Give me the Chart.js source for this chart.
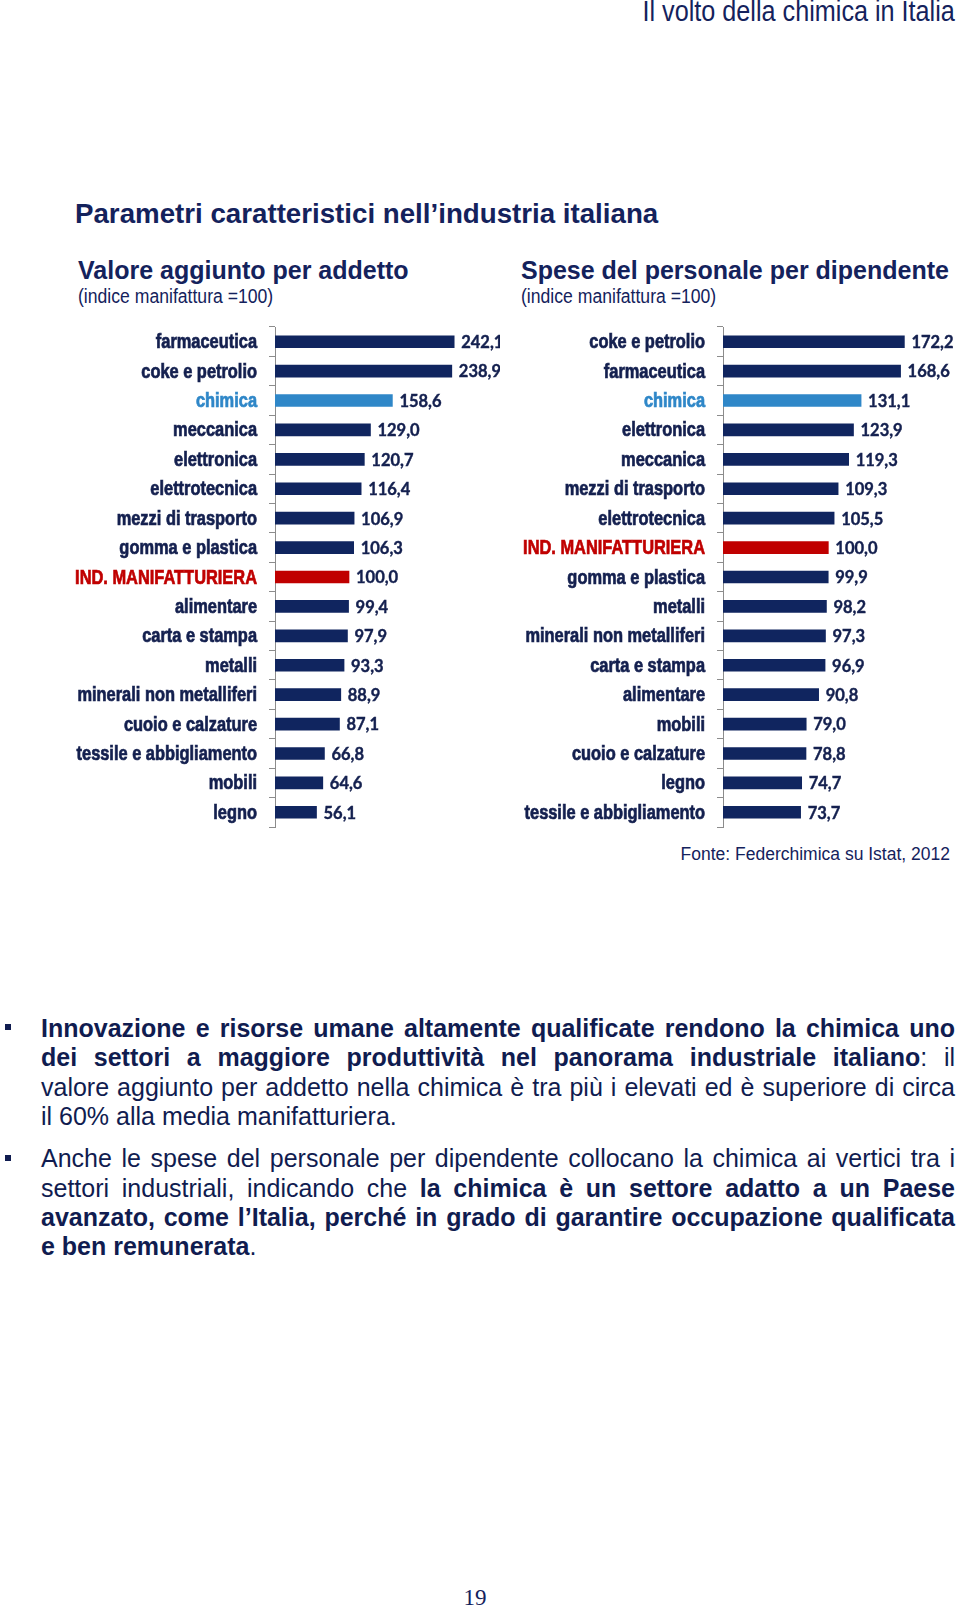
<!DOCTYPE html>
<html lang="it">
<head>
<meta charset="utf-8">
<title>Il volto della chimica in Italia</title>
<script src="https://cdn.jsdelivr.net/npm/chart.js@4.4.1/dist/chart.umd.min.js"></script>
<style>
  body { margin: 0; background: #fff; }
  #page { position: relative; width: 960px; height: 1610px; overflow: hidden;
          font-family: 'Liberation Sans', Arial, sans-serif; color: #14225c; }
  .abs { position: absolute; white-space: nowrap; }
  canvas { position: absolute; }
  .line { position: absolute; left: 41px; width: 914px; height: 30px; line-height: 30px;
          font-size: 25px; white-space: nowrap; text-align: justify; text-align-last: justify;
          color: #101c50; }
  .line.last { text-align-last: left; }
  .bullet { position: absolute; left: 5px; width: 6px; height: 6px; background: #101c50; }
</style>
</head>
<body>
<div id="page">
  <!-- no narrow font installed: squeeze the regular one -->
  <div class="abs" style="right:5px; top:-4px; font-size:30px; line-height:30px; transform:scaleX(0.84); transform-origin:right center;">Il volto della chimica in Italia</div>

  <div class="abs" style="left:75px; top:197px; font-size:27.7px; line-height:34px; font-weight:bold;">Parametri caratteristici nell’industria italiana</div>

  <div class="abs" style="left:78px; top:255px; font-size:25px; line-height:30px; font-weight:bold;">Valore aggiunto per addetto</div>
  <div class="abs" style="left:78px; top:285px; font-size:20px; line-height:22px; transform:scaleX(0.88); transform-origin:left center;">(indice manifattura =100)</div>
  <div class="abs" style="left:521px; top:255px; font-size:25px; line-height:30px; font-weight:bold;">Spese del personale per dipendente</div>
  <div class="abs" style="left:521px; top:285px; font-size:20px; line-height:22px; transform:scaleX(0.88); transform-origin:left center;">(indice manifattura =100)</div>

  <canvas id="chartLeft" width="500" height="515" style="left:0px; top:320px;"></canvas>
  <canvas id="chartRight" width="460" height="515" style="left:500px; top:320px;"></canvas>

  <div class="abs" style="right:10px; top:844px; font-size:17.5px; line-height:20px;">Fonte: Federchimica su Istat, 2012</div>

  <div class="bullet" style="top:1024px;"></div>
  <div class="line" style="top:1013px;"><b>Innovazione e risorse umane altamente qualificate rendono la chimica uno</b></div>
  <div class="line" style="top:1042px;"><b>dei settori a maggiore produttività nel panorama industriale italiano</b>: il</div>
  <div class="line" style="top:1072px;">valore aggiunto per addetto nella chimica è tra più i elevati ed è superiore di circa</div>
  <div class="line last" style="top:1101px;">il 60% alla media manifatturiera.</div>

  <div class="bullet" style="top:1155px;"></div>
  <div class="line" style="top:1143px;">Anche le spese del personale per dipendente collocano la chimica ai vertici tra i</div>
  <div class="line" style="top:1173px;">settori industriali, indicando che <b>la chimica è un settore adatto a un Paese</b></div>
  <div class="line" style="top:1202px;"><b>avanzato, come l’Italia, perché in grado di garantire occupazione qualificata</b></div>
  <div class="line last" style="top:1231px;"><b>e ben remunerata</b>.</div>

  <div class="abs" style="left:455px; top:1586px; width:40px; text-align:center; font-family:'Liberation Serif', serif; font-size:23px; line-height:24px;">19</div>
</div>

<script>
// Valore aggiunto per addetto (indice manifattura = 100)
const leftLabels = ['farmaceutica', 'coke e petrolio', 'chimica', 'meccanica', 'elettronica',
  'elettrotecnica', 'mezzi di trasporto', 'gomma e plastica', 'IND. MANIFATTURIERA', 'alimentare',
  'carta e stampa', 'metalli', 'minerali non metalliferi', 'cuoio e calzature',
  'tessile e abbigliamento', 'mobili', 'legno'];
const leftValues = [242.1, 238.9, 158.6, 129.0, 120.7, 116.4, 106.9, 106.3, 100.0, 99.4,
  97.9, 93.3, 88.9, 87.1, 66.8, 64.6, 56.1];

// Spese del personale per dipendente (indice manifattura = 100)
const rightLabels = ['coke e petrolio', 'farmaceutica', 'chimica', 'elettronica', 'meccanica',
  'mezzi di trasporto', 'elettrotecnica', 'IND. MANIFATTURIERA', 'gomma e plastica', 'metalli',
  'minerali non metalliferi', 'carta e stampa', 'alimentare', 'mobili', 'cuoio e calzature',
  'legno', 'tessile e abbigliamento'];
const rightValues = [172.2, 168.6, 131.1, 123.9, 119.3, 109.3, 105.5, 100.0, 99.9, 98.2,
  97.3, 96.9, 90.8, 79.0, 78.8, 74.7, 73.7];

const NAVY = '#10255f';
const BLUE = '#2f87c8';
const RED = '#c00000';
const TEXT = '#14204f';

function barColor(label) {
  if (label === 'chimica') return BLUE;
  if (label === 'IND. MANIFATTURIERA') return RED;
  return NAVY;
}
function textColor(label) {
  if (label === 'chimica') return BLUE;
  if (label === 'IND. MANIFATTURIERA') return RED;
  return TEXT;
}

// numbers at the end of every bar, with italian decimal comma
const valueLabels = {
  id: 'valueLabels',
  afterDatasetsDraw(chart) {
    const ctx = chart.ctx;
    const meta = chart.getDatasetMeta(0);
    const data = chart.data.datasets[0].data;
    ctx.save();
    ctx.font = 'bold 16.5px Lato, sans-serif';
    ctx.fillStyle = TEXT;
    ctx.strokeStyle = TEXT;
    ctx.lineWidth = 0.4;
    ctx.textAlign = 'left';
    ctx.textBaseline = 'middle';
    meta.data.forEach((bar, i) => {
      const txt = data[i].toFixed(1).replace('.', ',');
      ctx.fillText(txt, bar.x + 7, bar.y + 1);
      ctx.strokeText(txt, bar.x + 7, bar.y + 1);
    });
    ctx.restore();
  }
};

// category names, condensed by hand (Arial Narrow look)
const categoryLabels = {
  id: 'categoryLabels',
  afterDraw(chart) {
    const ctx = chart.ctx;
    const y = chart.scales.y;
    const xRight = y.right - 6 - 12;
    ctx.save();
    ctx.font = 'bold 20px "Liberation Sans", Arial, sans-serif';
    ctx.textAlign = 'right';
    ctx.textBaseline = 'middle';
    ctx.lineWidth = 0.7;
    chart.data.labels.forEach((label, i) => {
      ctx.save();
      ctx.translate(xRight, y.getPixelForTick(i) + 1);
      ctx.scale(0.82, 1);
      ctx.fillStyle = textColor(label);
      ctx.strokeStyle = textColor(label);
      ctx.fillText(label, 0, 0);
      ctx.strokeText(label, 0, 0);
      ctx.restore();
    });
    ctx.restore();
  }
};

function drawChart(id, labels, values, axisWidth, xMax) {
  return new Chart(document.getElementById(id), {
    type: 'bar',
    data: {
      labels: labels,
      datasets: [{
        data: values,
        backgroundColor: labels.map(barColor),
        barThickness: 12
      }]
    },
    options: {
      indexAxis: 'y',
      responsive: false,
      animation: false,
      layout: { padding: { top: 7, bottom: 8, left: 0, right: 0 } },
      plugins: { legend: { display: false }, tooltip: { enabled: false } },
      scales: {
        x: { display: false, min: 0, max: xMax },
        y: {
          afterFit: s => { s.width = axisWidth; s.paddingTop = 0; s.paddingBottom = 0; },
          border: { display: true, color: '#8c8c8c', width: 1 },
          grid: { display: true, drawOnChartArea: false, drawTicks: true, tickLength: 6, color: '#8c8c8c' },
          ticks: { display: false }
        }
      }
    },
    plugins: [valueLabels, categoryLabels]
  });
}

drawChart('chartLeft', leftLabels, leftValues, 275, 304);
drawChart('chartRight', rightLabels, rightValues, 223, 225);
</script>
</body>
</html>
